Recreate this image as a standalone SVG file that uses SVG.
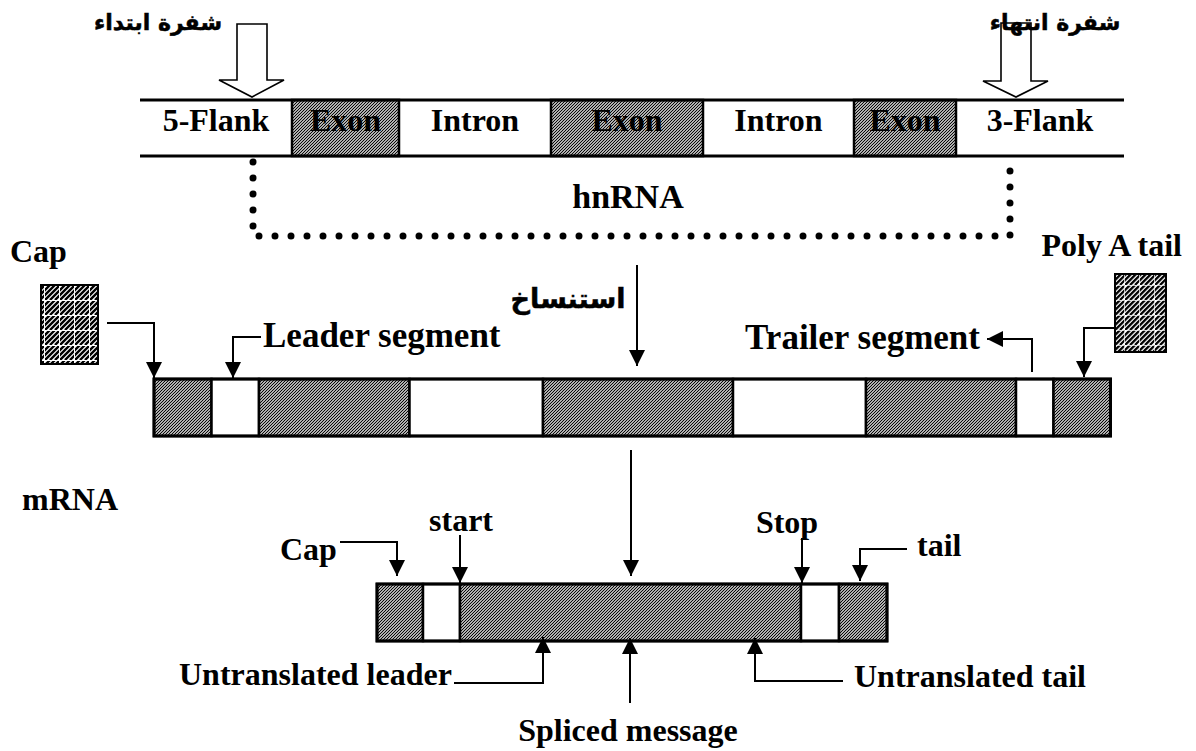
<svg xmlns="http://www.w3.org/2000/svg" width="1196" height="751" viewBox="0 0 1196 751">
<style>
.lbl{font-family:"Liberation Serif","Times New Roman",serif;font-weight:bold;font-size:32px;fill:#000}
.seg{font-size:35px}
.ar{font-family:"DejaVu Sans",sans-serif;font-weight:bold;fill:#000;stroke:#000;stroke-width:0.5}
.hatch{fill:url(#fine);stroke:#000;stroke-width:2.5}
.blank{fill:#fff;stroke:#000;stroke-width:2.5}
.con{fill:none;stroke:#000;stroke-width:2;marker-end:url(#ah)}
.hollow{fill:#fff;stroke:#000;stroke-width:1.6}
</style>
<defs>
<pattern id="fine" patternUnits="userSpaceOnUse" width="3" height="3">
<rect width="3" height="3" fill="#fff"/>
<path d="M0,3 L3,0 M-1,1 L1,-1 M2,4 L4,2" stroke="#000" stroke-width="1.2"/>
</pattern>
<pattern id="capPat" patternUnits="userSpaceOnUse" width="15" height="15">
<rect width="15" height="15" fill="#fff"/>
<path d="M-5,15 L10,0 M0,15 L15,0 M5,15 L20,0 M10,15 L25,0 M-10,15 L5,0" stroke="#000" stroke-width="2.4"/>
<path d="M0,0.5 H15 M14.5,0 V15" stroke="#fff" stroke-width="1"/>
</pattern>
<pattern id="polyPat" patternUnits="userSpaceOnUse" width="15" height="15">
<rect width="15" height="15" fill="#fff"/>
<path d="M-5,15 L10,0 M0,15 L15,0 M5,15 L20,0 M10,15 L25,0 M-10,15 L5,0" stroke="#000" stroke-width="2.2"/>
<path d="M-3,15 L12,0 M2,15 L17,0 M7,15 L22,0 M-8,15 L7,0" stroke="#999" stroke-width="0.8"/>
<path d="M0,0.5 H15 M14.5,0 V15" stroke="#fff" stroke-width="1" opacity="0.7"/>
</pattern>
<marker id="ah" markerUnits="userSpaceOnUse" viewBox="0 0 16 16" markerWidth="16" markerHeight="16" refX="16" refY="8" orient="auto">
<path d="M0,0 L16,8 L0,16 z" fill="#000"/>
</marker>
</defs>
<rect width="1196" height="751" fill="#fff"/>

<g id="start-codon">
<polygon class="hollow" points="237,24 267,24 267,80 284,80 252,97 219,80 237,80"/>
<text class="ar" x="158" y="30" font-size="22" text-anchor="middle">شفرة ابتداء</text>
</g>
<g id="stop-codon">
<polygon class="hollow" points="1001,23 1031,23 1031,81 1048,81 1016,97 983,81 1001,81"/>
<text class="ar" x="1055" y="30" font-size="22" text-anchor="middle">شفرة انتهاء</text>
</g>

<g id="gene">
<rect class="hatch" x="292" y="100" width="107" height="56"/>
<rect class="hatch" x="551" y="100" width="152" height="56"/>
<rect class="hatch" x="854" y="100" width="102" height="56"/>
<line x1="140" y1="100" x2="1124" y2="100" stroke="#000" stroke-width="3"/>
<line x1="140" y1="156" x2="1124" y2="156" stroke="#000" stroke-width="3"/>
<text class="lbl" x="216" y="131" text-anchor="middle">5-Flank</text>
<text class="lbl" x="345.5" y="131" text-anchor="middle">Exon</text>
<text class="lbl" x="475" y="131" text-anchor="middle">Intron</text>
<text class="lbl" x="627" y="131" text-anchor="middle">Exon</text>
<text class="lbl" x="778.5" y="131" text-anchor="middle">Intron</text>
<text class="lbl" x="905" y="131" text-anchor="middle">Exon</text>
<text class="lbl" x="1040" y="131" text-anchor="middle">3-Flank</text>
</g>

<g id="hnRNA">
<path d="M253,162 V236 H1010 V162" fill="none" stroke="#000" stroke-width="7" stroke-linecap="round" stroke-dasharray="0 16"/>
<text class="lbl" x="628" y="208" text-anchor="middle" style="font-size:34px">hnRNA</text>
</g>

<g id="transcription-label">
<text class="ar" x="568" y="308" font-size="27" text-anchor="middle">استنساخ</text>
</g>

<g id="cap">
<text class="lbl" x="10" y="262">Cap</text>
<rect x="41" y="285" width="57" height="79" fill="url(#capPat)" stroke="#000" stroke-width="2"/>
</g>

<g id="polyA">
<text class="lbl" x="1182" y="256" text-anchor="end">Poly A tail</text>
<rect x="1115" y="274" width="51" height="78" fill="url(#polyPat)" stroke="#000" stroke-width="2"/>
</g>

<g id="leader-label"><text class="lbl seg" x="263" y="347">Leader segment</text></g>
<g id="trailer-label"><text class="lbl seg" x="980" y="349" text-anchor="end">Trailer segment</text></g>

<g id="pre-mRNA">
<rect class="hatch" x="154" y="379" width="57.5" height="57"/>
<rect class="blank" x="211.5" y="379" width="47.5" height="57"/>
<rect class="hatch" x="259" y="379" width="150.5" height="57"/>
<rect class="blank" x="409.5" y="379" width="133.5" height="57"/>
<rect class="hatch" x="543" y="379" width="190" height="57"/>
<rect class="blank" x="733" y="379" width="133" height="57"/>
<rect class="hatch" x="866" y="379" width="150" height="57"/>
<rect class="blank" x="1016" y="379" width="37.5" height="57"/>
<rect class="hatch" x="1053.5" y="379" width="57" height="57"/>
<rect x="154" y="379" width="956.5" height="57" fill="none" stroke="#000" stroke-width="3"/>
</g>

<g id="mRNA-label"><text class="lbl" x="22" y="510">mRNA</text></g>

<g id="mRNA">
<rect class="hatch" x="377" y="584" width="46" height="57"/>
<rect class="blank" x="423" y="584" width="37" height="57"/>
<rect class="hatch" x="460" y="584" width="341" height="57"/>
<rect class="blank" x="801" y="584" width="38" height="57"/>
<rect class="hatch" x="839" y="584" width="48" height="57"/>
<rect x="377" y="584" width="510" height="57" fill="none" stroke="#000" stroke-width="3"/>
</g>

<g id="mRNA-labels">
<text class="lbl" x="280" y="560">Cap</text>
<text class="lbl" x="461" y="531" text-anchor="middle">start</text>
<text class="lbl" x="787" y="533" text-anchor="middle">Stop</text>
<text class="lbl" x="917" y="556">tail</text>
<text class="lbl" x="179" y="685">Untranslated leader</text>
<text class="lbl" x="854" y="687">Untranslated tail</text>
<text class="lbl" x="628" y="741" text-anchor="middle">Spliced message</text>
</g>

<g id="connectors">
<polyline class="con" points="107,323 154,323 154,378"/>
<polyline class="con" points="261,337 233,337 233,378"/>
<line class="con" x1="637" y1="265" x2="637" y2="366"/>
<polyline class="con" points="1032,372 1032,339 987,339"/>
<polyline class="con" points="1115,328 1084,328 1084,377"/>
<line class="con" x1="631" y1="450" x2="631" y2="576"/>
<polyline class="con" points="340,542 397,542 397,576"/>
<line class="con" x1="460" y1="535" x2="460" y2="583"/>
<line class="con" x1="802" y1="538" x2="802" y2="583"/>
<polyline class="con" points="907,549 860,549 860,581"/>
<polyline class="con" points="454,683 543,683 543,637"/>
<line class="con" x1="630" y1="703" x2="630" y2="638"/>
<polyline class="con" points="843,681 755,681 755,638"/>
</g>
</svg>
